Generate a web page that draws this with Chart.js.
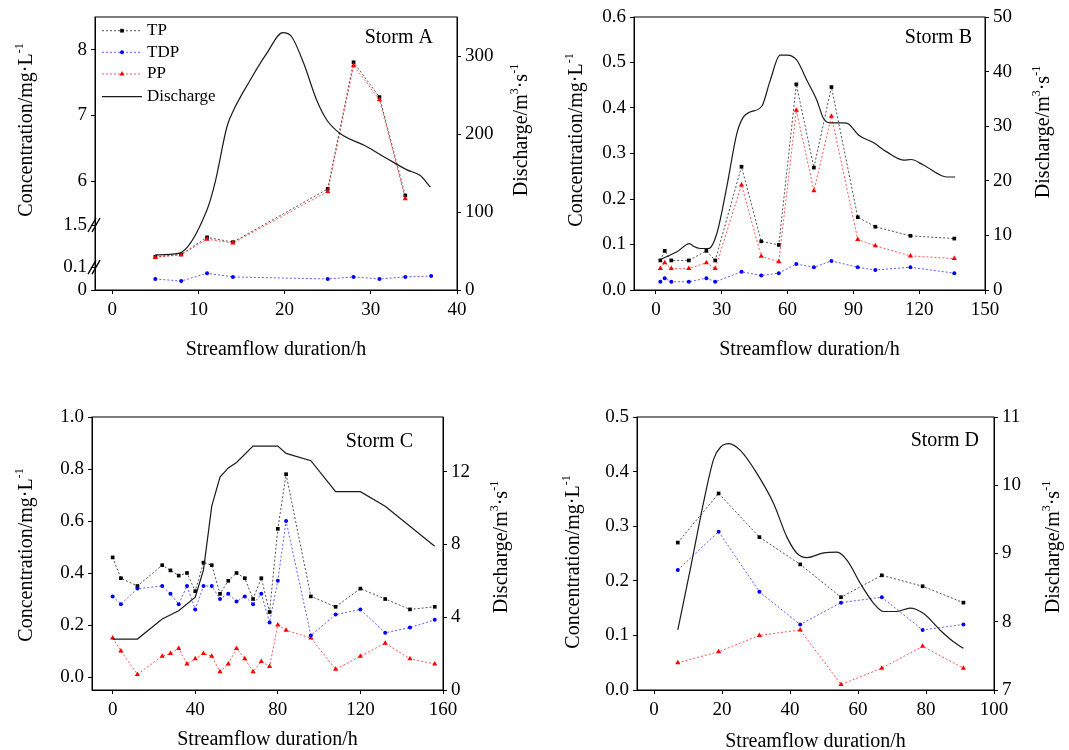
<!DOCTYPE html>
<html>
<head>
<meta charset="utf-8">
<script src="https://cdn.jsdelivr.net/npm/chart.js@4.4.1/dist/chart.umd.min.js"></script>
<style>
  body { margin: 0; background: #fff; width: 1069px; height: 750px; position: relative; overflow: hidden; }
  canvas { position: absolute; }
</style>
</head>
<body>
<canvas id="chartA" width="534" height="375" style="left:0;top:0"></canvas>
<canvas id="chartB" width="535" height="375" style="left:534px;top:0"></canvas>
<canvas id="chartC" width="534" height="375" style="left:0;top:375px"></canvas>
<canvas id="chartD" width="535" height="375" style="left:534px;top:375px"></canvas>
<script>
// ---- Storm A ----
const timeA = [5, 8, 11, 14, 25, 28, 31, 34];
const tpA = [0.44, 0.52, 1.09, 0.93, 5.88, 7.81, 7.28, 5.78];
const ppA = [0.42, 0.51, 1.03, 0.90, 5.84, 7.76, 7.24, 5.73];
const timeA_TDP = [5, 8, 11, 14, 25, 28, 31, 34, 37];
const tdpA = [0.048, 0.039, 0.073, 0.057, 0.048, 0.057, 0.048, 0.057, 0.061];
const timeA_Q = [5, 7.7, 11, 12, 13.3, 14.1, 16, 17.9, 19.8, 20.8, 22.2, 23.7, 24.9, 26.4, 29.5, 31.8, 34.2, 35.7, 36.9];
const qA = [45, 47, 103, 141, 209, 231, 269, 303, 330, 325, 291, 244, 218, 201, 184, 169, 154, 147, 132];

// ---- Storm B ----
const timeB = [2, 4, 7, 15, 23, 27, 39, 48, 56, 64, 72, 80, 92, 100, 116, 136];
const tpB = [0.065, 0.086, 0.065, 0.065, 0.086, 0.065, 0.271, 0.107, 0.099, 0.452, 0.269, 0.446, 0.160, 0.139, 0.119, 0.113];
const tdpB = [0.018, 0.026, 0.018, 0.018, 0.026, 0.018, 0.040, 0.032, 0.037, 0.057, 0.050, 0.064, 0.050, 0.044, 0.050, 0.037];
const ppB = [0.047, 0.060, 0.047, 0.047, 0.060, 0.047, 0.231, 0.074, 0.062, 0.395, 0.218, 0.382, 0.111, 0.097, 0.075, 0.069];
const timeB_Q = [2, 9.6, 15.3, 17.1, 20.1, 24, 27.8, 32.3, 36.9, 39.9, 42.9, 48.3, 52.1, 56.6, 59.7, 64.2, 68.8, 73.3, 76.4, 79.4, 85.5, 87.8, 92.3, 99.1, 105.2, 112.8, 116.3, 121.9, 132.6, 136.4];
const qB = [5.6, 7.0, 8.5, 8.0, 7.6, 7.6, 10.4, 18.9, 28.7, 31.7, 32.6, 33.7, 38.4, 43.0, 43.0, 42.1, 38.4, 34.8, 31.4, 30.6, 30.6, 30.4, 28.4, 27.0, 25.3, 23.8, 23.9, 22.9, 20.7, 20.7];

// ---- Storm C ----
const timeC = [0, 4, 12, 24, 28, 32, 36, 40, 44, 48, 52, 56, 60, 64, 68, 72, 76, 80, 84, 96, 108, 120, 132, 144, 156];
const tpC = [0.46, 0.38, 0.35, 0.43, 0.41, 0.39, 0.40, 0.33, 0.44, 0.43, 0.32, 0.37, 0.40, 0.38, 0.30, 0.38, 0.25, 0.57, 0.78, 0.31, 0.27, 0.34, 0.30, 0.26, 0.27];
const tdpC = [0.31, 0.28, 0.34, 0.35, 0.32, 0.28, 0.35, 0.26, 0.35, 0.35, 0.30, 0.32, 0.29, 0.31, 0.28, 0.32, 0.21, 0.37, 0.60, 0.16, 0.24, 0.26, 0.17, 0.19, 0.22];
const ppC = [0.15, 0.10, 0.01, 0.08, 0.09, 0.11, 0.05, 0.07, 0.09, 0.08, 0.02, 0.05, 0.11, 0.07, 0.02, 0.06, 0.04, 0.20, 0.18, 0.15, 0.03, 0.08, 0.13, 0.07, 0.05];
const timeC_Q = [0, 12, 24, 32, 40, 44, 48, 52, 56, 60, 68, 80, 84, 96, 108, 120, 132, 156];
const qC = [2.8, 2.8, 3.9, 4.35, 5.1, 6.6, 10.1, 11.7, 12.2, 12.5, 13.4, 13.4, 13.0, 12.6, 10.9, 10.9, 10.1, 7.9];

// ---- Storm D ----
const timeD = [7, 19, 31, 43, 55, 67, 79, 91];
const tpD = [0.27, 0.36, 0.28, 0.23, 0.17, 0.21, 0.19, 0.16];
const tdpD = [0.22, 0.29, 0.18, 0.12, 0.16, 0.17, 0.11, 0.12];
const ppD = [0.05, 0.07, 0.10, 0.11, 0.01, 0.04, 0.08, 0.04];
const timeD_Q = [7, 10.8, 14.7, 17.6, 19.6, 22, 25.4, 30.3, 35.2, 39.1, 42.1, 45, 49.9, 53.8, 56.8, 60.7, 64.6, 67.5, 71.4, 75.3, 79.3, 84.1, 88, 91];
const qD = [7.88, 8.80, 9.78, 10.39, 10.56, 10.61, 10.51, 10.17, 9.73, 9.24, 9.0, 8.94, 9.01, 9.02, 8.90, 8.56, 8.27, 8.15, 8.15, 8.20, 8.12, 7.88, 7.71, 7.61];

// Tick labels
const xTicksA = [0, 10, 20, 30, 40];
const xTicksB = [0, 30, 60, 90, 120, 150];
const xTicksC = [0, 40, 80, 120, 160];
const xTicksD = [0, 20, 40, 60, 80, 100];
const yTicksA = [0, 0.1, 1.5, 6, 7, 8];
const yTicksB = [0, 0.1, 0.2, 0.3, 0.4, 0.5, 0.6];
const yTicksC = [0, 0.2, 0.4, 0.6, 0.8, 1.0];
const yTicksD = [0, 0.1, 0.2, 0.3, 0.4, 0.5];
const qTicksA = [0, 100, 200, 300];
const qTicksB = [0, 10, 20, 30, 40, 50];
const qTicksC = [0, 4, 8, 12];
const qTicksD = [7, 8, 9, 10, 11];

const FONT = '"Liberation Serif", "Times New Roman", serif';

// Storm A has a broken concentration axis: [valueFrom, valueTo, fracFrom, fracTo]
const brokenSegmentsA = [
  [0, 0.1, 0, 0.084],
  [0.1, 1.5, 0.084, 0.238],
  [5.33, 8.5, 0.238, 1]
];

class BrokenScale extends Chart.LinearScale {
  static id = 'broken';
  static defaults = Chart.LinearScale.defaults;
  getPixelForValue(value) {
    let frac = 1;
    for (const s of brokenSegmentsA) {
      if (value <= s[1]) {
        frac = value < s[0] ? s[2] : s[2] + (value - s[0]) / (s[1] - s[0]) * (s[3] - s[2]);
        break;
      }
    }
    return this.getPixelForDecimal(frac);
  }
  getValueForPixel(pixel) {
    const d = this.getDecimalForPixel(pixel);
    for (const s of brokenSegmentsA) {
      if (d <= s[3]) return s[0] + (d - s[2]) / (s[3] - s[2]) * (s[1] - s[0]);
    }
    return 8.5;
  }
}
Chart.register(BrokenScale);

function pts(xs, ys) {
  return xs.map((x, i) => ({ x: x, y: ys[i] }));
}

function dotted(label, xs, ys, color, lineColor, style, radius) {
  return {
    label: label, data: pts(xs, ys), yAxisID: 'y',
    borderColor: lineColor, borderWidth: 1, borderDash: [2, 2],
    pointStyle: style, pointRadius: radius, pointBorderWidth: 0,
    pointBackgroundColor: color, backgroundColor: color, tension: 0
  };
}

function discharge(xs, ys, smooth) {
  return {
    label: 'Discharge', data: pts(xs, ys), yAxisID: 'y1',
    borderColor: '#1a1a1a', borderWidth: 1.2, pointRadius: 0,
    cubicInterpolationMode: smooth ? 'monotone' : 'default', tension: 0
  };
}

function drawRich(ctx, parts, cx, cy, size) {
  const small = Math.round(size * 0.62);
  ctx.save();
  ctx.translate(cx, cy);
  ctx.rotate(-Math.PI / 2);
  ctx.fillStyle = '#000';
  ctx.textAlign = 'left';
  ctx.textBaseline = 'alphabetic';
  let w = 0;
  for (const p of parts) {
    ctx.font = (p[1] ? small : size) + 'px ' + FONT;
    w += ctx.measureText(p[0]).width;
  }
  let x = -w / 2;
  for (const p of parts) {
    ctx.font = (p[1] ? small : size) + 'px ' + FONT;
    ctx.fillText(p[0], x, p[1] ? size * 0.33 - size * 0.42 : size * 0.33);
    x += ctx.measureText(p[0]).width;
  }
  ctx.restore();
}

const decorPlugin = {
  id: 'decor',
  afterDraw(chart, args, o) {
    const ctx = chart.ctx;
    const a = chart.chartArea;
    ctx.save();
    ctx.strokeStyle = '#000';
    ctx.lineWidth = 1;
    ctx.strokeRect(a.left, a.top, a.right - a.left, a.bottom - a.top);

    // storm name
    ctx.fillStyle = '#000';
    ctx.font = '20px ' + FONT;
    ctx.textAlign = 'right';
    ctx.textBaseline = 'alphabetic';
    ctx.fillText(o.name, o.nameX, o.nameY);

    // axis titles
    ctx.textAlign = 'center';
    ctx.textBaseline = 'middle';
    ctx.fillText('Streamflow duration/h', (a.left + a.right) / 2, o.xTitleY);
    drawRich(ctx, [['Concentration/mg·L', 0], ['-1', 1]], o.leftX, o.leftY, 20);
    drawRich(ctx, [['Discharge/m', 0], ['3', 1], ['·s', 0], ['-1', 1]], o.rightX, o.rightY, 20);

    // legend (Storm A only)
    if (o.legend) {
      const rows = [30.7, 52.3, 74, 96.7];
      ctx.font = '17px ' + FONT;
      ctx.textAlign = 'left';
      const order = ['TP', 'TDP', 'PP', 'Discharge'];
      order.forEach((name, i) => {
        const ds = chart.data.datasets.find(d => d.label === name);
        const y = rows[i];
        ctx.save();
        ctx.strokeStyle = ds.borderColor;
        ctx.lineWidth = ds.borderWidth;
        ctx.setLineDash(ds.borderDash || []);
        ctx.beginPath();
        ctx.moveTo(102, y);
        ctx.lineTo(142, y);
        ctx.stroke();
        ctx.setLineDash([]);
        if (ds.pointRadius > 0) {
          ctx.fillStyle = ds.pointBackgroundColor;
          Chart.helpers.drawPoint(ctx, { pointStyle: ds.pointStyle, radius: ds.pointRadius, borderWidth: 0, rotation: 0 }, 122, y);
        }
        ctx.restore();
        ctx.fillStyle = '#000';
        ctx.fillText(name, 147, y);
      });
    }

    // axis break marks
    if (o.breaks) {
      const ys = chart.scales.y;
      [0.1, 1.5].forEach(v => {
        const py = ys.getPixelForValue(v);
        ctx.lineWidth = 1.4;
        ctx.strokeStyle = '#000';
        [-2, 2].forEach(d => {
          ctx.beginPath();
          ctx.moveTo(a.left - 5 + d, py + 7);
          ctx.lineTo(a.left + 3 + d, py - 7);
          ctx.stroke();
        });
      });
    }
    ctx.restore();
  }
};

function axis(position, min, max, ticksArr, size, fmt, type) {
  const horizontal = position === 'bottom';
  return {
    type: type || 'linear', position: position, min: min, max: max,
    grid: { display: true, drawOnChartArea: false, drawTicks: true, tickLength: 4, color: '#000' },
    border: { display: true, color: '#000', width: 1 },
    ticks: {
      color: '#000', padding: horizontal ? 5 : 4, maxRotation: 0, autoSkip: false,
      font: { family: FONT, size: 19 },
      callback: v => fmt(v)
    },
    afterBuildTicks: s => { s.ticks = ticksArr.map(v => ({ value: v })); },
    afterFit: s => { if (horizontal) s.height = size; else s.width = size; }
  };
}

function makeChart(id, p) {
  return new Chart(document.getElementById(id), {
    type: 'line',
    data: {
      datasets: [
        discharge(p.tQ, p.q, p.smooth),
        dotted('TDP', p.tTDP, p.tdp, '#0000ff', 'rgba(40,40,255,0.75)', 'circle', 2),
        dotted('PP', p.t, p.pp, '#ff0000', 'rgba(255,30,30,0.75)', 'triangle', 3),
        dotted('TP', p.t, p.tp, '#000000', 'rgba(50,50,50,0.85)', 'rect', 2.6)
      ]
    },
    options: {
      responsive: false,
      animation: false,
      devicePixelRatio: 1,
      layout: { padding: { top: p.top, left: 0, right: 0, bottom: 0 } },
      plugins: { legend: { display: false }, tooltip: { enabled: false }, decor: p.decor },
      scales: {
        x: axis('bottom', p.xRange[0], p.xRange[1], p.xTicks, p.bottom, v => String(v)),
        y: axis('left', p.yRange[0], p.yRange[1], p.yTicks, p.left, p.yFmt, p.yType),
        y1: axis('right', p.qRange[0], p.qRange[1], p.qTicks, p.right, v => String(v))
      }
    },
    plugins: [decorPlugin]
  });
}

makeChart('chartA', {
  t: timeA, tp: tpA, pp: ppA, tTDP: timeA_TDP, tdp: tdpA, tQ: timeA_Q, q: qA, smooth: true,
  xRange: [-2, 40], yRange: [0, 8.5], qRange: [0, 350], yType: 'broken',
  xTicks: xTicksA, yTicks: yTicksA, qTicks: qTicksA, yFmt: v => String(v),
  top: 17, left: 95, right: 77, bottom: 85,
  decor: { name: 'Storm A', nameX: 433, nameY: 43, xTitleY: 350, leftX: 25, leftY: 130, rightX: 520, rightY: 130, legend: true, breaks: true }
});

makeChart('chartB', {
  t: timeB, tp: tpB, pp: ppB, tTDP: timeB, tdp: tdpB, tQ: timeB_Q, q: qB, smooth: true,
  xRange: [-10, 150], yRange: [0, 0.6], qRange: [0, 50],
  xTicks: xTicksB, yTicks: yTicksB, qTicks: qTicksB, yFmt: v => v.toFixed(1),
  top: 17, left: 100, right: 84, bottom: 85,
  decor: { name: 'Storm B', nameX: 438, nameY: 43, xTitleY: 350, leftX: 41, leftY: 140, rightX: 508, rightY: 132 }
});

makeChart('chartC', {
  t: timeC, tp: tpC, pp: ppC, tTDP: timeC, tdp: tdpC, tQ: timeC_Q, q: qC, smooth: false,
  xRange: [-10, 160], yRange: [-0.05, 1.0], qRange: [0, 15],
  xTicks: xTicksC, yTicks: yTicksC, qTicks: qTicksC, yFmt: v => v.toFixed(1),
  top: 42, left: 92, right: 91, bottom: 60,
  decor: { name: 'Storm C', nameX: 413, nameY: 72, xTitleY: 365, leftX: 25, leftY: 180, rightX: 500, rightY: 172 }
});

makeChart('chartD', {
  t: timeD, tp: tpD, pp: ppD, tTDP: timeD, tdp: tdpD, tQ: timeD_Q, q: qD, smooth: true,
  xRange: [-5, 100], yRange: [0, 0.5], qRange: [7, 11],
  xTicks: xTicksD, yTicks: yTicksD, qTicks: qTicksD, yFmt: v => v.toFixed(1),
  top: 42, left: 103, right: 75, bottom: 60,
  decor: { name: 'Storm D', nameX: 445, nameY: 71, xTitleY: 367, leftX: 38, leftY: 187, rightX: 518, rightY: 172 }
});
</script>
</body>
</html>
